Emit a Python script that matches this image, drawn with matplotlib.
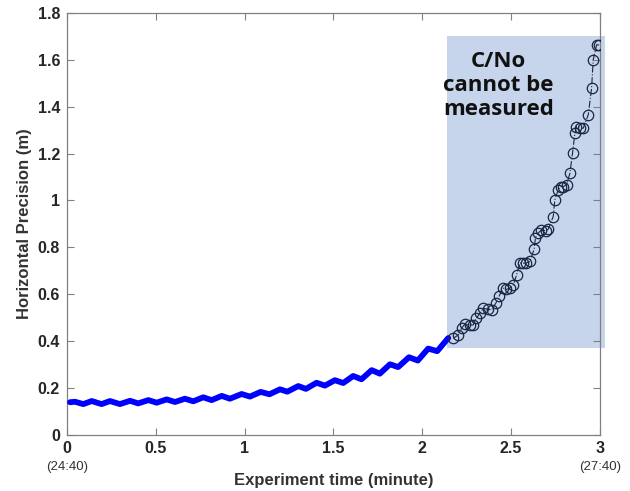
import numpy as np
import matplotlib.pyplot as plt
from matplotlib.patches import Rectangle

t_meas = [0.017, 0.045, 0.092, 0.139, 0.195, 0.242, 0.298, 0.355, 0.401, 0.458,
          0.505, 0.561, 0.608, 0.664, 0.711, 0.767, 0.814, 0.871, 0.917, 0.983,
          1.030, 1.090, 1.140, 1.199, 1.240, 1.302, 1.345, 1.405, 1.452, 1.508,
          1.555, 1.611, 1.658, 1.715, 1.761, 1.818, 1.864, 1.925, 1.975, 2.033,
          2.084, 2.146]
hp_meas = [0.138, 0.140, 0.130, 0.143, 0.130, 0.143, 0.130, 0.144, 0.133, 0.147,
           0.136, 0.150, 0.139, 0.153, 0.142, 0.159, 0.147, 0.165, 0.153, 0.173,
           0.162, 0.182, 0.172, 0.193, 0.183, 0.207, 0.195, 0.221, 0.209, 0.232,
           0.220, 0.250, 0.236, 0.275, 0.260, 0.300, 0.288, 0.330, 0.316, 0.367,
           0.356, 0.412]

# circles (C/No not measurable)
t_est = [2.174, 2.202, 2.221, 2.240, 2.268, 2.287, 2.305, 2.324, 2.343, 2.371,
         2.390, 2.414, 2.433, 2.455, 2.474, 2.493, 2.512, 2.531, 2.549, 2.568,
         2.583, 2.606, 2.630, 2.637, 2.652, 2.671, 2.696, 2.709, 2.737, 2.746,
         2.765, 2.778, 2.793, 2.812, 2.831, 2.846, 2.859, 2.868, 2.887, 2.906,
         2.934, 2.953, 2.962, 2.981, 2.995]
hp_est = [0.411, 0.425, 0.454, 0.472, 0.468, 0.468, 0.497, 0.518, 0.539, 0.535,
          0.532, 0.561, 0.592, 0.625, 0.620, 0.625, 0.639, 0.682, 0.732, 0.732,
          0.732, 0.739, 0.793, 0.841, 0.860, 0.874, 0.870, 0.877, 0.931, 1.002,
          1.045, 1.059, 1.059, 1.066, 1.116, 1.204, 1.287, 1.315, 1.308, 1.308,
          1.365, 1.479, 1.600, 1.664, 1.664]

# shaded region (x0, x1, y0, y1)
shade_x = [2.14, 3.03]
shade_y = [0.37, 1.70]

xticks = [0, 0.5, 1, 1.5, 2, 2.5, 3]
xticklabels = ['0', '0.5', '1', '1.5', '2', '2.5', '3']
yticks = [0, 0.2, 0.4, 0.6, 0.8, 1.0, 1.2, 1.4, 1.6, 1.8]
yticklabels = ['0', '0.2', '0.4', '0.6', '0.8', '1', '1.2', '1.4', '1.6', '1.8']

plt.rcParams['font.family'] = ['Liberation Sans', 'DejaVu Sans']

fig = plt.figure(figsize=(6.3, 4.91), dpi=100)
ax = fig.add_axes([0.1063, 0.115, 0.8460, 0.8585])

ax.add_patch(Rectangle((shade_x[0], shade_y[0]), shade_x[1] - shade_x[0],
                       shade_y[1] - shade_y[0], facecolor='#c6d5ec',
                       edgecolor='none', clip_on=False, zorder=1))

ax.plot(t_meas, hp_meas, color='#0000ff', lw=4.2, solid_joinstyle='round',
        solid_capstyle='round', zorder=3)
ax.plot(t_est, hp_est, color='#1c2541', lw=0.8, ls='-.', marker='o', ms=7.5,
        mfc='none', mec='#1c2541', mew=0.9, zorder=4)

ax.text(2.43, 1.49, 'C/No\ncannot be\nmeasured', ha='center', va='center',
        multialignment='center', fontsize=16, fontweight='bold',
        family=['Open Sans', 'DejaVu Sans'], linespacing=1.2,
        color='#111111', zorder=5)

ax.set_xlim(0, 3)
ax.set_ylim(0, 1.8)
ax.set_xticks(xticks)
ax.set_xticklabels(xticklabels)
ax.set_yticks(yticks)
ax.set_yticklabels(yticklabels)
ax.tick_params(direction='in', top=True, right=True, length=5, width=0.8,
               color='#808080', labelsize=11.5, labelcolor='#262626', pad=5)
for lab in ax.get_xticklabels() + ax.get_yticklabels():
    lab.set_fontweight('bold')
for sp in ax.spines.values():
    sp.set_color('#808080')
    sp.set_linewidth(0.9)

trans = ax.get_xaxis_transform()
ax.text(0, -0.078, '(24:40)', transform=trans, ha='center', va='center',
        fontsize=9.5, color='#333333')
ax.text(3, -0.078, '(27:40)', transform=trans, ha='center', va='center',
        fontsize=9.5, color='#333333')

ax.set_xlabel('Experiment time (minute)', fontsize=12, fontweight='bold',
              color='#333333', labelpad=12)
ax.set_ylabel('Horizontal Precision (m)', fontsize=12, fontweight='bold',
              color='#333333', labelpad=4)

fig.savefig('out.png', dpi=100)
